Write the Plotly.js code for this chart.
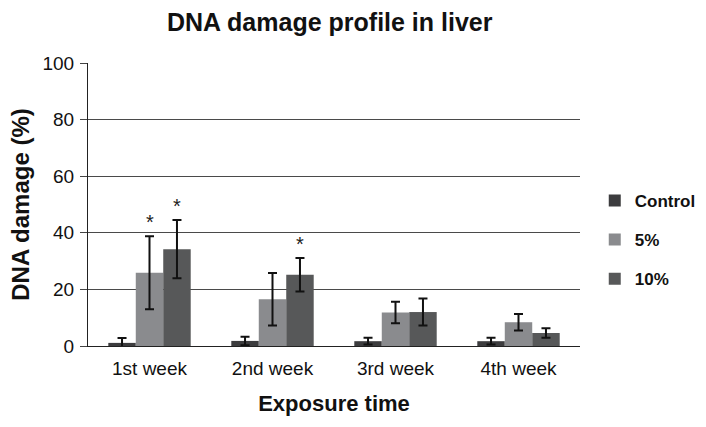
<!DOCTYPE html>
<html>
<head>
<meta charset="utf-8">
<script src="https://cdn.plot.ly/plotly-3.0.1.min.js"></script>
<style>html,body{margin:0;padding:0;background:#fff;}#chart{width:706px;height:427px;}</style>
</head>
<body>
<div id="chart"></div>
<script>
const categories = ['1st week', '2nd week', '3rd week', '4th week'];
const seriesNames = ['Control', '5%', '10%'];
const controlVals = [1.1, 1.8, 1.7, 1.7];
const controlErr = [1.7, 1.5, 1.2, 1.2];
const pct5Vals = [25.9, 16.5, 11.8, 8.4];
const pct5Err = [12.9, 9.3, 3.8, 2.9];
const pct10Vals = [34.2, 25.2, 12.0, 4.6];
const pct10Err = [10.3, 5.9, 4.8, 1.7];
const pct5Sig = ['*', '', '', ''];
const pct10Sig = ['*', '*', '', ''];
const colors = ['#3c3c3e', '#8a8b8e', '#575859'];

const vals = [controlVals, pct5Vals, pct10Vals];
const errs = [controlErr, pct5Err, pct10Err];
const sigs = [['', '', '', ''], pct5Sig, pct10Sig];

const bargap = 0.33;
const barW = (1 - bargap) / 3;
const FONT = 'Arial, Liberation Sans, sans-serif';

const traces = seriesNames.map((name, i) => ({
  type: 'bar', name: name, x: categories, y: vals[i],
  marker: {color: colors[i], line: {width: 0}},
  error_y: {type: 'data', array: errs[i], visible: true, color: '#111', thickness: 2, width: 4.5},
  legendgroup: name
}));

const annotations = [];
sigs.forEach((s, i) => {
  s.forEach((t, j) => {
    if (t) {
      annotations.push({
        x: j + (i - 1) * barW, y: vals[i][j] + errs[i][j], xref: 'x', yref: 'y',
        text: t, showarrow: false, yanchor: 'bottom', yshift: 1,
        font: {family: FONT, size: 20, color: '#222'}
      });
    }
  });
});

const layout = {
  width: 706, height: 427,
  margin: {l: 88, r: 126, t: 63, b: 81, autoexpand: false},
  paper_bgcolor: '#fff', plot_bgcolor: '#fff',
  font: {family: FONT, color: '#111'},
  title: {text: '<b>DNA damage profile in liver</b>', x: 0.467, xanchor: 'center', y: 0.948, yanchor: 'middle',
    font: {size: 25, color: '#111'}},
  barmode: 'group', bargap: bargap, bargroupgap: 0,
  xaxis: {
    type: 'category', range: [-0.5, 3.5],
    showline: true, linecolor: '#222', linewidth: 1, ticks: '', showgrid: false,
    tickfont: {size: 19, color: '#111'}, ticklabelstandoff: 5,
    title: {text: '<b>Exposure time</b>', font: {size: 22, color: '#111'}, standoff: 17}
  },
  yaxis: {
    range: [0, 100], tickvals: [0, 20, 40, 60, 80, 100],
    showline: true, linecolor: '#222', linewidth: 1,
    ticks: 'outside', ticklen: 7, tickcolor: '#444', ticklabelstandoff: 2,
    showgrid: true, gridcolor: '#4a4a4a', gridwidth: 1, zeroline: false,
    tickfont: {size: 19, color: '#111'},
    title: {text: '<b>DNA damage (%)</b>', font: {size: 24, color: '#111'}, standoff: 6}
  },
  legend: {x: 1.03, xanchor: 'left', y: 0.375, yanchor: 'middle', tracegroupgap: 14,
    font: {size: 17, color: '#111', weight: 'bold'}, itemwidth: 30},
  annotations: annotations
};

Plotly.newPlot('chart', traces, layout, {staticPlot: true, displayModeBar: false});
</script>
</body>
</html>
